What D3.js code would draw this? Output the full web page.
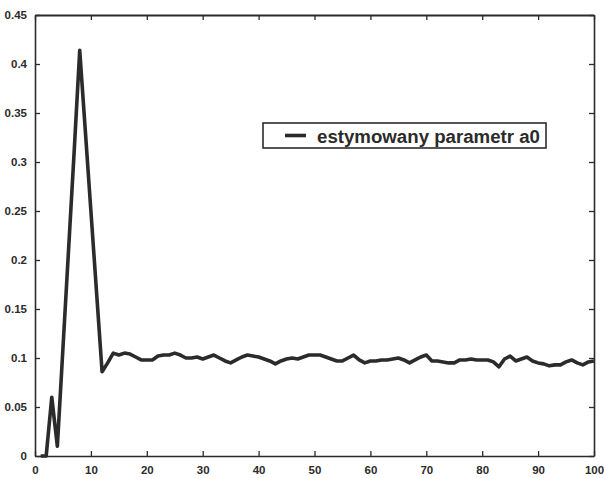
<!DOCTYPE html>
<html>
<head>
<meta charset="utf-8">
<script src="https://cdn.jsdelivr.net/npm/d3@7"></script>
<style>
  body { margin: 0; background: #fff; }
  svg { display: block; }
</style>
</head>
<body>
<div id="app"></div>
<script>
// data
const steps = d3.range(1, 101);
const a0 = [
  0, 0, 0.06, 0.01, 0.11, 0.21, 0.31, 0.414, 0.332, 0.25,
  0.168, 0.086, 0.095, 0.105, 0.103, 0.105, 0.104, 0.101, 0.098, 0.098,
  0.098, 0.102, 0.103, 0.103, 0.105, 0.103, 0.100, 0.100, 0.101, 0.099,
  0.101, 0.103, 0.100, 0.097, 0.095, 0.098, 0.101, 0.103, 0.102, 0.101,
  0.099, 0.097, 0.094, 0.097, 0.099, 0.100, 0.099, 0.101, 0.103, 0.103,
  0.103, 0.101, 0.099, 0.097, 0.097, 0.100, 0.103, 0.098, 0.095, 0.097,
  0.097, 0.098, 0.098, 0.099, 0.100, 0.098, 0.095, 0.098, 0.101, 0.103,
  0.097, 0.097, 0.096, 0.095, 0.095, 0.098, 0.098, 0.099, 0.098, 0.098,
  0.098, 0.096, 0.091, 0.099, 0.102, 0.097, 0.099, 0.101, 0.097, 0.095,
  0.094, 0.092, 0.093, 0.093, 0.096, 0.098, 0.095, 0.093, 0.096, 0.097
];
const xTicks = d3.range(0, 101, 10);
const yTicks = [0, 0.05, 0.1, 0.15, 0.2, 0.25, 0.3, 0.35, 0.4, 0.45];
const yTickLabels = ['0', '0.05', '0.1', '0.15', '0.2', '0.25', '0.3', '0.35', '0.4', '0.45'];
const legendLabel = 'estymowany parametr a0';

const width = 604, height = 478;
const margin = { top: 15, right: 10, bottom: 22, left: 35 };
const ink = '#2b2b2b';

const svg = d3.select('#app').append('svg')
  .attr('width', width)
  .attr('height', height)
  .style('font-family', 'Liberation Sans, Arial, sans-serif');

const x = d3.scaleLinear().domain([0, 100]).range([margin.left, width - margin.right]);
const y = d3.scaleLinear().domain([0, 0.45]).range([height - margin.bottom, margin.top]);

// axes, ticks point inward (matlab box)
const fmtY = d => yTickLabels[yTicks.indexOf(d)];
const bottomAxis = d3.axisBottom(x).tickValues(xTicks).tickSizeInner(-5).tickSizeOuter(0).tickPadding(10);
const leftAxis = d3.axisLeft(y).tickValues(yTicks).tickFormat(fmtY).tickSizeInner(-5).tickSizeOuter(0).tickPadding(8);

const gx = svg.append('g')
  .attr('transform', `translate(0,${y(0)})`)
  .call(bottomAxis);
const gy = svg.append('g')
  .attr('transform', `translate(${x(0)},0)`)
  .call(leftAxis);
const gt = svg.append('g')
  .attr('transform', `translate(0,${y(0.45)})`)
  .call(d3.axisTop(x).tickValues(xTicks).tickSizeInner(-5).tickSizeOuter(0).tickFormat(''));
const gr = svg.append('g')
  .attr('transform', `translate(${x(100)},0)`)
  .call(d3.axisRight(y).tickValues(yTicks).tickSizeInner(-5).tickSizeOuter(0).tickFormat(''));

[gx, gy, gt, gr].forEach(g => {
  g.selectAll('.domain').attr('stroke', ink).attr('stroke-width', 1.6);
  g.selectAll('.tick line').attr('stroke', ink).attr('stroke-width', 1.3);
  g.selectAll('text')
    .attr('fill', ink)
    .attr('font-size', '11.5px')
    .attr('font-weight', 'bold');
});
gt.select('.domain').attr('stroke-width', 2.2);

// series
const line = d3.line()
  .x((d, i) => x(steps[i]))
  .y(d => y(d));

svg.append('path')
  .datum(a0)
  .attr('fill', 'none')
  .attr('stroke', ink)
  .attr('stroke-width', 3.6)
  .attr('stroke-linejoin', 'round')
  .attr('d', line);

// legend
const lg = svg.append('g');
lg.append('rect')
  .attr('x', 263).attr('y', 123)
  .attr('width', 283).attr('height', 25)
  .attr('fill', '#fff')
  .attr('stroke', ink)
  .attr('stroke-width', 1.6);
lg.append('line')
  .attr('x1', 285).attr('x2', 306)
  .attr('y1', 135.5).attr('y2', 135.5)
  .attr('stroke', ink)
  .attr('stroke-width', 3.6);
const lt = lg.append('text')
  .attr('x', 317).attr('y', 142.5)
  .attr('fill', ink)
  .attr('font-size', '18px')
  .attr('font-weight', 'bold')
  .text(legendLabel);
// squeeze to the width seen in the scan
lt.attr('textLength', 223).attr('lengthAdjust', 'spacingAndGlyphs');
</script>
</body>
</html>
